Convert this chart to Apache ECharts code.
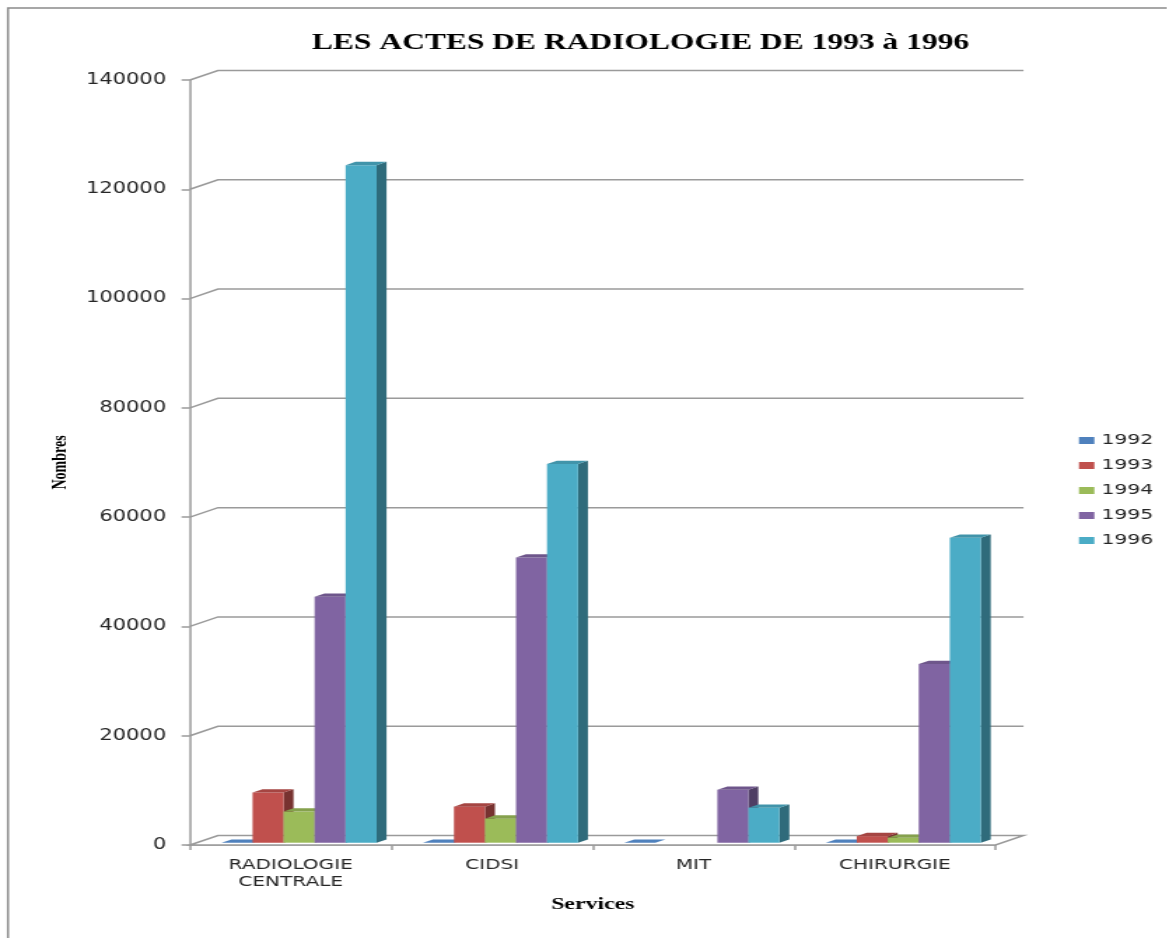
<!DOCTYPE html>
<html>
<head>
<meta charset="utf-8">
<script src="https://cdn.jsdelivr.net/npm/echarts@6/dist/echarts.min.js"></script>
<style>
  html, body { margin: 0; padding: 0; background: #ffffff; overflow: hidden; }
  /* the chart is laid out narrow and widened horizontally, giving the wide lettering */
  #chart { width: 833.57px; height: 938px; transform: scaleX(1.4); transform-origin: 0 0; }
</style>
</head>
<body>
<div id="chart"></div>
<script>
// ---- data ----
const services = ['RADIOLOGIE\nCENTRALE', 'CIDSI', 'MIT', 'CHIRURGIE'];
const years = ['1992', '1993', '1994', '1995', '1996'];
const v1992 = [0, 0, 0, 0];
const v1993 = [9200, 6600, null, 1200];
const v1994 = [5700, 4400, null, 900];
const v1995 = [45000, 52200, 9700, 32700];
const v1996 = [124000, 69300, 6400, 55800];
const yTicks = [0, 20000, 40000, 60000, 80000, 100000, 120000, 140000];

const seriesValues = [v1992, v1993, v1994, v1995, v1996];
const colors = ['#4F81BD', '#C0504D', '#9BBB59', '#8064A2', '#4BACC6'];

// ---- 3D look parameters (in layout units) ----
const WALL_DX = 20, WALL_DY = -9.5;     // depth of floor / back wall
const BAR_DX = 7.1, BAR_DY = -3.3;      // depth of each bar
const BAR_SHIFT_X = 6, BAR_SHIFT_Y = -2.3; // bars sit a little behind the front edge
const BAR_FRAC = 0.154;                 // bar width as a share of the category band
const LINE = '#9a9a9a';

function shade(hex, f) {
  const n = parseInt(hex.slice(1), 16);
  const r = Math.round(((n >> 16) & 255) * f);
  const g = Math.round(((n >> 8) & 255) * f);
  const b = Math.round((n & 255) * f);
  return 'rgb(' + r + ',' + g + ',' + b + ')';
}

// floor and back-wall grid lines
function renderWall(params, api) {
  const cs = params.coordSys;
  const v = api.value(0);
  const p = api.coord([0, v]);
  const y = p[1];
  const x0 = cs.x, x1 = cs.x + cs.width;
  if (v === 0) {
    return {
      type: 'polygon',
      shape: { points: [[x0, y], [x0 + WALL_DX, y + WALL_DY], [x1 + WALL_DX, y + WALL_DY], [x1, y]] },
      style: { fill: '#ffffff', stroke: LINE, lineWidth: 1.5 },
      silent: true
    };
  }
  return {
    type: 'polyline',
    shape: { points: [[x0, y], [x0 + WALL_DX, y + WALL_DY], [x1 + WALL_DX, y + WALL_DY]] },
    style: { fill: null, stroke: LINE, lineWidth: 1.5 },
    silent: true
  };
}

function makeBarRenderer(idx) {
  const front = colors[idx], side = shade(colors[idx], 0.62), top = shade(colors[idx], 0.86);
  return function (params, api) {
    const cat = api.value(0), v = api.value(1);
    if (v == null || isNaN(v)) return null;
    const base = api.coord([cat, 0]);
    const head = api.coord([cat, v]);
    const band = api.size([1, 0])[0];
    const bw = band * BAR_FRAC;
    const fx = base[0] + BAR_SHIFT_X + (idx - 2.5) * bw;
    const by = base[1] + BAR_SHIFT_Y;
    const ty = head[1] + BAR_SHIFT_Y;
    const children = [];
    if (by - ty > 0.01) {
      children.push({ type: 'polygon', shape: { points: [[fx + bw, by], [fx + bw + BAR_DX, by + BAR_DY], [fx + bw + BAR_DX, ty + BAR_DY], [fx + bw, ty]] }, style: { fill: side } });
      children.push({ type: 'rect', shape: { x: fx, y: ty, width: bw, height: by - ty }, style: { fill: front } });
    }
    children.push({ type: 'polygon', shape: { points: [[fx, ty], [fx + BAR_DX, ty + BAR_DY], [fx + bw + BAR_DX, ty + BAR_DY], [fx + bw, ty]] }, style: { fill: by - ty > 0.01 ? top : front } });
    return { type: 'group', children: children };
  };
}

const barSeries = years.map(function (yr, i) {
  return {
    name: yr,
    type: 'custom',
    renderItem: makeBarRenderer(i),
    itemStyle: { color: colors[i] },
    data: seriesValues[i].map(function (v, c) { return [c, v]; }),
    encode: { x: 0, y: 1 },
    z: 3
  };
});

const chart = echarts.init(document.getElementById('chart'), null, { renderer: 'canvas' });
chart.setOption({
  animation: false,
  backgroundColor: '#ffffff',
  title: {
    text: 'LES ACTES DE RADIOLOGIE DE 1993 à 1996',
    left: 452.5,
    top: 27,
    textAlign: 'center',
    textStyle: { fontFamily: 'Liberation Serif', fontWeight: 'bold', fontSize: 22.5, color: '#000000' }
  },
  legend: {
    data: years,
    orient: 'vertical',
    left: 765.7,
    top: 428,
    icon: 'rect',
    itemWidth: 11,
    itemHeight: 7,
    itemGap: 10,
    textStyle: { fontFamily: 'DejaVu Sans', fontSize: 14.5, lineHeight: 15, color: '#262626' }
  },
  grid: { left: 135.7, right: 122.9, top: 80, bottom: 93, containLabel: false },
  xAxis: {
    type: 'category',
    data: services,
    name: 'Services',
    nameLocation: 'middle',
    nameGap: 50,
    nameTextStyle: { fontFamily: 'Liberation Serif', fontWeight: 'bold', fontSize: 17, color: '#000000' },
    axisLine: { lineStyle: { color: LINE, width: 1.5 } },
    axisTick: { show: true, length: 5, lineStyle: { color: LINE, width: 1.5 } },
    axisLabel: { fontFamily: 'DejaVu Sans', fontSize: 14.3, lineHeight: 17, color: '#262626', margin: 12 },
    splitLine: { show: false }
  },
  yAxis: {
    type: 'value',
    min: 0,
    max: 140000,
    interval: 20000,
    name: 'Nombres',
    nameLocation: 'middle',
    nameRotate: 90,
    nameGap: 78,
    nameTextStyle: { fontFamily: 'Liberation Serif', fontWeight: 'bold', fontSize: 14, color: '#000000' },
    axisLine: { show: true, lineStyle: { color: LINE, width: 1.5 } },
    axisTick: { show: true, length: 6, lineStyle: { color: LINE, width: 1.5 } },
    axisLabel: {
      fontFamily: 'DejaVu Sans', fontSize: 15, color: '#262626', margin: 17,
      formatter: function (v) { return String(v); }
    },
    splitLine: { show: false }
  },
  graphic: [{
    type: 'polyline',
    shape: { points: [[5.7, 938], [5.7, 8], [833.6, 8]] },
    style: { fill: null, stroke: '#8a8a8a', lineWidth: 1.5 },
    silent: true
  }],
  series: [{
    name: 'wall',
    type: 'custom',
    renderItem: renderWall,
    data: yTicks.map(function (t) { return [t]; }),
    encode: { y: 0 },
    silent: true,
    z: 1
  }].concat(barSeries)
});
</script>
</body>
</html>
